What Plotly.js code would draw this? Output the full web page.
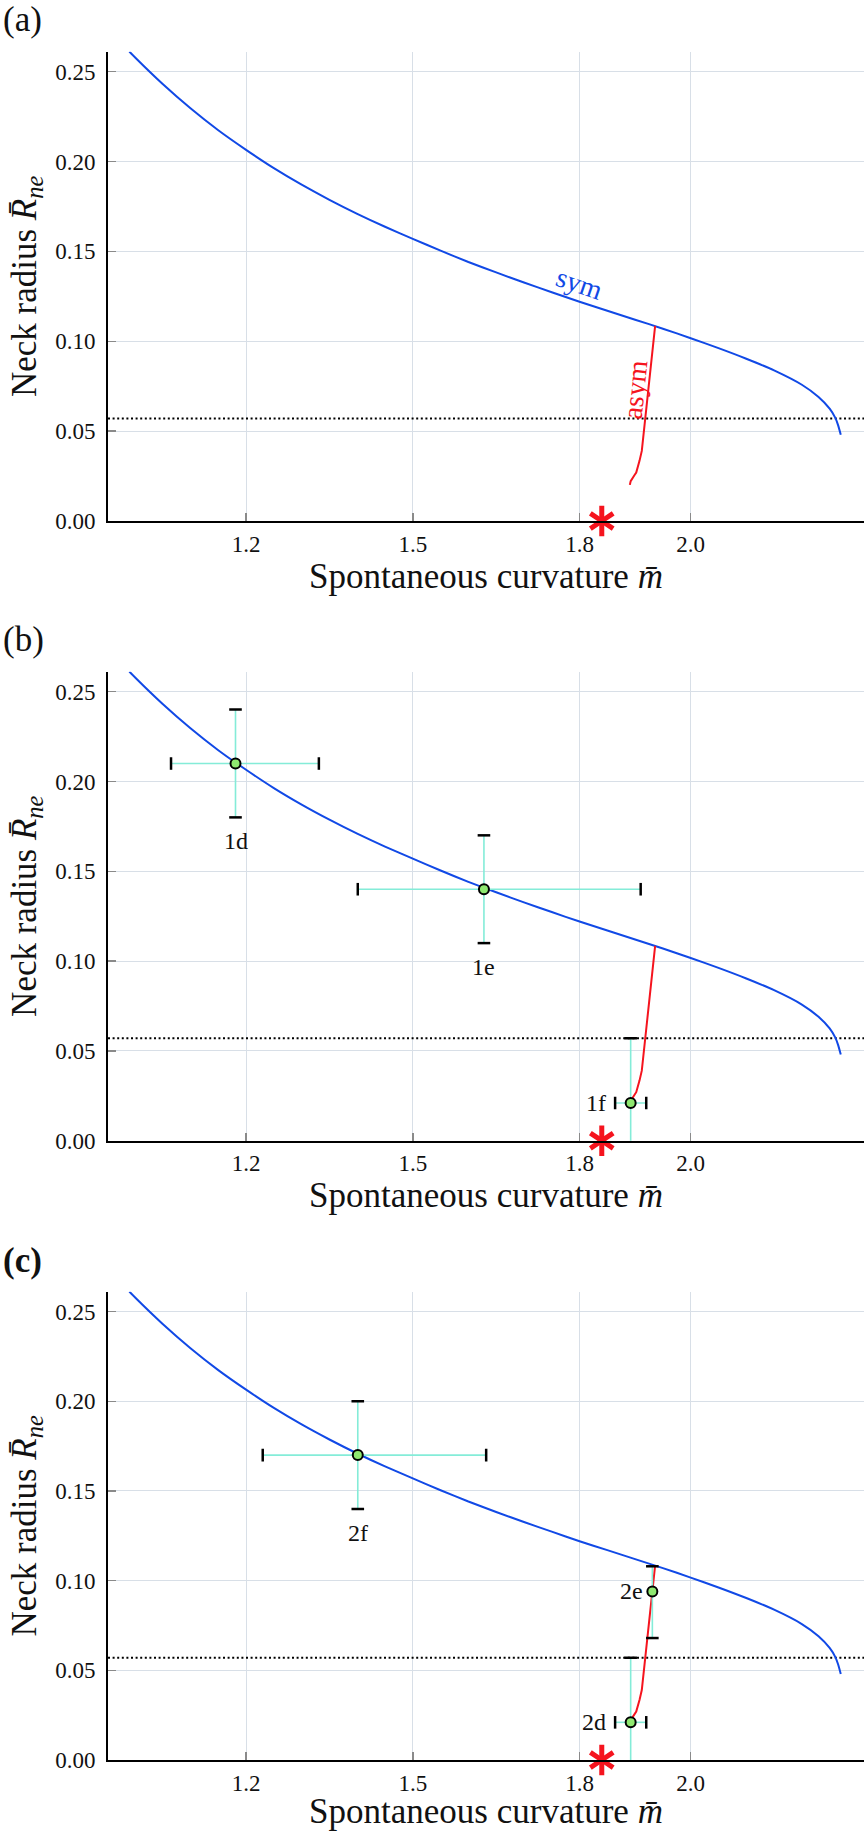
<!DOCTYPE html>
<html>
<head>
<meta charset="utf-8">
<script src="https://cdn.plot.ly/plotly-3.0.1.min.js"></script>
<style>html,body{margin:0;padding:0;background:#fff;}#chart{width:865px;height:1831px;}</style>
</head>
<body>
<div id="chart"></div>
<script>
// ---- data ----
const symX = [0.99, 1.00, 1.05, 1.10, 1.15, 1.20, 1.25, 1.30, 1.35, 1.40, 1.45, 1.50, 1.55, 1.60, 1.65, 1.70, 1.75, 1.80, 1.85, 1.90, 1.95, 2.00, 2.05, 2.10, 2.15, 2.20, 2.23, 2.25, 2.26, 2.265, 2.27];
const symY = [0.2612, 0.2580, 0.2431, 0.2296, 0.2174, 0.2065, 0.1963, 0.1871, 0.1787, 0.1709, 0.1637, 0.1570, 0.1504, 0.1441, 0.1383, 0.1327, 0.1273, 0.1220, 0.1170, 0.1120, 0.1070, 0.1017, 0.0962, 0.0903, 0.0838, 0.0758, 0.0690, 0.0625, 0.0575, 0.0535, 0.0480];
const asymX = [1.936, 1.933, 1.930, 1.927, 1.924, 1.921, 1.918, 1.915, 1.912, 1.908, 1.905, 1.902, 1.899, 1.895, 1.892, 1.8905];
const asymY = [0.1085, 0.1000, 0.0912, 0.0820, 0.0713, 0.0630, 0.0550, 0.0455, 0.0390, 0.0336, 0.0296, 0.0270, 0.0256, 0.0235, 0.0222, 0.0201];
const starX = [1.84];
const starY = [0.0];
const threshold = 0.057;

const xTicks = [1.2, 1.5, 1.8, 2.0];
const xTickText = ['1.2', '1.5', '1.8', '2.0'];
const yTicks = [0, 0.05, 0.10, 0.15, 0.20, 0.25];

const bLabels = ['1d', '1e', '1f'];
const bX = [1.181, 1.628, 1.892];
const bY = [0.210, 0.140, 0.021];
const bXerrPlus = [0.150, 0.282, 0.028];
const bXerrMinus = [0.116, 0.227, 0.028];
const bYerrPlus = [0.030, 0.030, 0.036];
const bYerrMinus = [0.030, 0.030, 0.036];
const bLabelSide = ['below', 'below', 'left'];

const cLabels = ['2f', '2e', '2d'];
const cX = [1.401, 1.931, 1.892];
const cY = [0.170, 0.094, 0.021];
const cXerrPlus = [0.231, 0, 0.028];
const cXerrMinus = [0.171, 0, 0.028];
const cYerrPlus = [0.030, 0.014, 0.036];
const cYerrMinus = [0.030, 0.026, 0.036];
const cLabelSide = ['below', 'left', 'left'];

const panelLabels = ['(a)', '(b)', '(c)'];

// ---- style ----
const FONT = "'Liberation Serif', 'Times New Roman', serif";
const BLUE = '#1149e6';
const RED = '#f5141e';
const CYAN = '#84ecd8';
const GREEN = '#8fe870';
const xRange = [0.9516, 2.3118];
const yRange = [0, 0.2611];
const H = 1831;
const panelPix = [[51.7, 521], [671.7, 1140.7], [1291.7, 1760]];
const panelLabelY = [20, 640, 1260];

const traces = [];
const annotations = [];
const layout = {
  width: 865, height: H,
  margin: {l: 108, r: 1, t: 0, b: 0, pad: 0},
  paper_bgcolor: '#fff', plot_bgcolor: '#fff',
  showlegend: false,
  font: {family: FONT, color: '#000', size: 23},
  annotations: annotations
};

function axisNames(i) {
  const s = i === 0 ? '' : String(i + 1);
  return {xa: 'xaxis' + s, ya: 'yaxis' + s, x: 'x' + s, y: 'y' + s};
}

for (let i = 0; i < 3; i++) {
  const n = axisNames(i);
  const top = panelPix[i][0], bot = panelPix[i][1];
  layout[n.xa] = {
    domain: [0, 1], anchor: n.y, range: xRange,
    tickvals: xTicks, ticktext: xTickText,
    ticks: 'inside', ticklen: 8, tickwidth: 1.5, tickcolor: '#8a8a8a',
    showgrid: true, gridcolor: '#d8dfe7', gridwidth: 1,
    showline: true, linecolor: '#000', linewidth: 2,
    zeroline: false,
    tickfont: {family: FONT, size: 23, color: '#111'},
    ticklabelstandoff: 1,
    title: {text: 'Spontaneous curvature <i>m̄</i>', font: {family: FONT, size: 35, color: '#111'}, standoff: 1}
  };
  layout[n.ya] = {
    domain: [1 - bot / H, 1 - top / H], anchor: n.x, range: yRange,
    tickvals: yTicks, tickformat: '.2f',
    ticks: 'inside', ticklen: 8, tickwidth: 1.5, tickcolor: '#8a8a8a',
    showgrid: true, gridcolor: '#d8dfe7', gridwidth: 1,
    showline: true, linecolor: '#000', linewidth: 2,
    zeroline: false,
    tickfont: {family: FONT, size: 23, color: '#111'},
    ticklabelstandoff: 6,
    title: {text: 'Neck radius <i>R̄</i><sub><i>ne</i></sub>', font: {family: FONT, size: 35, color: '#111'}, standoff: 8}
  };

  // threshold dotted line
  traces.push({type: 'scatter', mode: 'lines', x: xRange, y: [threshold, threshold],
    xaxis: n.x, yaxis: n.y, line: {color: '#000', width: 2, dash: '2px,2.6px'}, hoverinfo: 'skip'});
  // sym curve
  traces.push({type: 'scatter', mode: 'lines', x: symX, y: symY, xaxis: n.x, yaxis: n.y,
    line: {color: BLUE, width: 2, shape: 'spline', smoothing: 0.6}});
  // asym curve
  traces.push({type: 'scatter', mode: 'lines', x: asymX, y: asymY, xaxis: n.x, yaxis: n.y,
    line: {color: RED, width: 2}});
  // red star (6-armed asterisk built from two 3-armed symbols)
  ['y-up-open', 'y-down-open'].forEach(function (sym) {
    traces.push({type: 'scatter', mode: 'markers', x: starX, y: starY, xaxis: n.x, yaxis: n.y,
      cliponaxis: false,
      marker: {symbol: sym, size: 19, color: RED, line: {color: RED, width: 5}}});
  });

  annotations.push({xref: 'paper', yref: 'paper', x: -108 / 756 + 0.001, y: 1 - panelLabelY[i] / H,
    xanchor: 'left', yanchor: 'middle', showarrow: false, text: i === 2 ? '<b>' + panelLabels[i] + '</b>' : panelLabels[i],
    font: {family: FONT, size: 35, color: '#111'}});
}

// curve labels in panel (a)
annotations.push({xref: 'x', yref: 'y', x: 1.7995, y: 0.132, text: 'sym', showarrow: false,
  textangle: 19, font: {family: FONT, size: 28, color: BLUE}});
annotations.push({xref: 'x', yref: 'y', x: 1.8996, y: 0.0733, text: 'asym', showarrow: false,
  textangle: -84, font: {family: FONT, size: 28, color: RED}});

function addPoints(i, labels, X, Y, xp, xm, yp, ym, side) {
  const n = axisNames(i);
  traces.push({type: 'scatter', mode: 'markers', x: X, y: Y, xaxis: n.x, yaxis: n.y,
    error_x: {type: 'data', symmetric: false, array: xp, arrayminus: xm, color: CYAN, thickness: 1.6, width: 0},
    error_y: {type: 'data', symmetric: false, array: yp, arrayminus: ym, color: CYAN, thickness: 1.6, width: 0},
    marker: {size: 0.1, color: 'rgba(0,0,0,0)'}});
  // caps
  const hx = [], hy = [], vx = [], vy = [];
  for (let k = 0; k < X.length; k++) {
    hx.push(X[k], X[k]); hy.push(Y[k] + yp[k], Y[k] - ym[k]);
    if (xp[k] > 0) { vx.push(X[k] + xp[k]); vy.push(Y[k]); }
    if (xm[k] > 0) { vx.push(X[k] - xm[k]); vy.push(Y[k]); }
  }
  traces.push({type: 'scatter', mode: 'markers', x: hx, y: hy, xaxis: n.x, yaxis: n.y,
    marker: {symbol: 'line-ew', size: 9, line: {color: '#000', width: 2.5}}});
  traces.push({type: 'scatter', mode: 'markers', x: vx, y: vy, xaxis: n.x, yaxis: n.y,
    marker: {symbol: 'line-ns', size: 9, line: {color: '#000', width: 2.5}}});
  traces.push({type: 'scatter', mode: 'markers', x: X, y: Y, xaxis: n.x, yaxis: n.y,
    marker: {size: 10, color: GREEN, line: {color: '#000', width: 2}}});
  for (let k = 0; k < X.length; k++) {
    if (side[k] === 'below') {
      annotations.push({xref: n.x, yref: n.y, x: X[k], y: Y[k] - ym[k], yshift: -24,
        xanchor: 'center', yanchor: 'middle', showarrow: false, text: labels[k],
        font: {family: FONT, size: 24, color: '#111'}});
    } else {
      annotations.push({xref: n.x, yref: n.y, x: X[k] - xm[k], y: Y[k], xshift: -7,
        xanchor: 'right', yanchor: 'middle', showarrow: false, text: labels[k],
        font: {family: FONT, size: 24, color: '#111'}});
    }
  }
}
addPoints(1, bLabels, bX, bY, bXerrPlus, bXerrMinus, bYerrPlus, bYerrMinus, bLabelSide);
addPoints(2, cLabels, cX, cY, cXerrPlus, cXerrMinus, cYerrPlus, cYerrMinus, cLabelSide);

Plotly.newPlot('chart', traces, layout, {staticPlot: true, displayModeBar: false});
</script>
</body>
</html>
